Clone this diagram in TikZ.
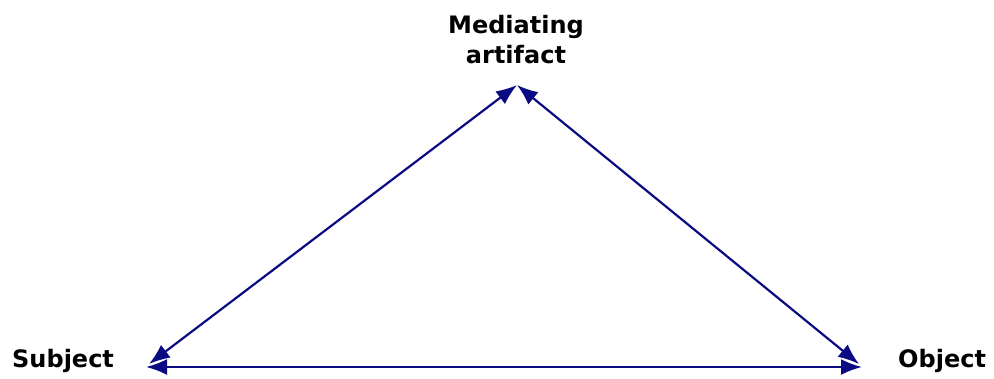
\documentclass[tikz,border=0pt]{standalone}
\usepackage{fontspec}
\setmainfont{DejaVu Sans}
\usetikzlibrary{arrows.meta,positioning}
\definecolor{navy}{RGB}{10,10,130}
\tikzset{
  lbl/.style={font=\fontsize{24}{30}\selectfont\bfseries,inner sep=0pt,align=center},
  arr/.style={{Latex[length=21pt,width=16pt]}-{Latex[length=21pt,width=16pt]},line width=2.2pt,navy},
}

\begin{document}
\begin{tikzpicture}[x=1pt,y=-1pt]
\useasboundingbox (0,0) rectangle (994,378);
\coordinate (apex) at (517,85);
\coordinate (sl) at (149,364);
\coordinate (ol) at (859,364);
\coordinate (sb) at (146,367);
\coordinate (ob) at (862,367);
\node[lbl,anchor=base] (artifact) at (516,63) {Mediating\\artifact};
\node[lbl,anchor=base west] (subject) at (12,367) {Subject};
\node[lbl,anchor=base west] (object) at (898,367) {Object};
\draw[arr] (sl) -- (apex);
\draw[arr] (apex) -- (ol);
\draw[arr] (sb) -- (ob);
\end{tikzpicture}
\end{document}
